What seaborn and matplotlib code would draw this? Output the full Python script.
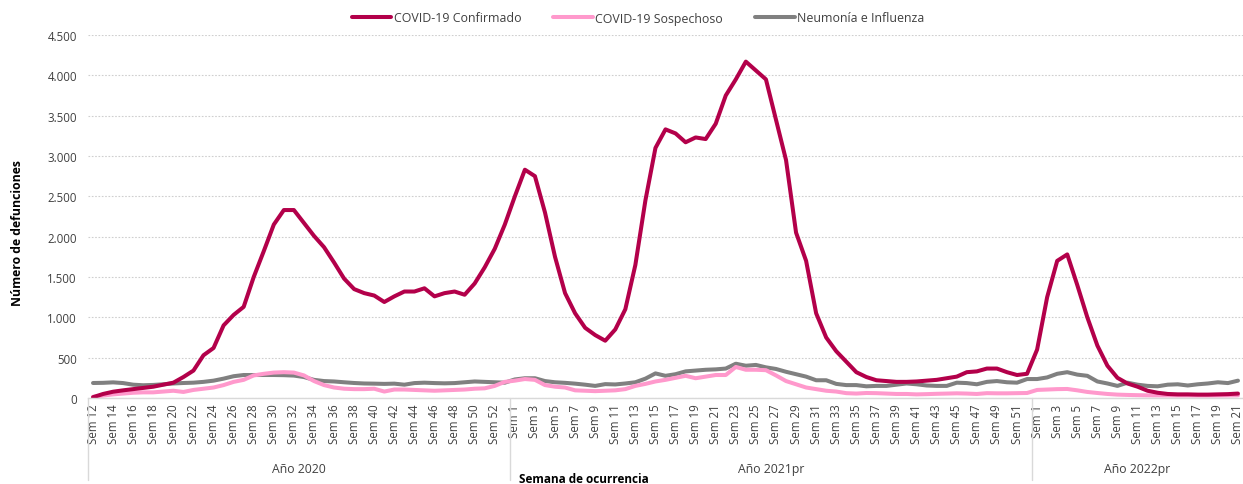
import numpy as np
import pandas as pd
import matplotlib
matplotlib.use('Agg')
import matplotlib.pyplot as plt
import matplotlib.ticker as mticker
import matplotlib.transforms as mtransforms
import seaborn as sns

# Weeks per year (category axis)
weeks_2020 = list(range(12, 54))
weeks_2021 = list(range(1, 53))
weeks_2022 = list(range(1, 22))
year_labels = ['Año 2020', 'Año 2021pr', 'Año 2022pr']

# Deaths per week
confirmado_2020 = [10, 50, 78, 95, 110, 125, 140, 165, 190, 260, 340, 530, 620, 900,
                   1030, 1130, 1500, 1820, 2150, 2330, 2330, 2170, 2010, 1870, 1680,
                   1480, 1350, 1300, 1270, 1190, 1260, 1320, 1320, 1360, 1260, 1300,
                   1320, 1280, 1420, 1620, 1850, 2150]
confirmado_2021 = [2500, 2830, 2750, 2300, 1750, 1300, 1050, 870, 780, 710, 850, 1100,
                   1650, 2450, 3100, 3330, 3280, 3170, 3230, 3210, 3400, 3750, 3950,
                   4170, 4060, 3950, 3450, 2950, 2050, 1700, 1050, 750, 580, 450, 320,
                   260, 220, 210, 200, 200, 205, 215, 225, 245, 265, 320, 330, 365,
                   365, 320, 285, 300]
confirmado_2022 = [600, 1250, 1700, 1780, 1400, 1000, 650, 400, 250, 180, 140, 90, 65,
                   50, 45, 45, 42, 42, 45, 48, 55]

sospechoso_2020 = [15, 30, 45, 55, 65, 70, 70, 80, 90, 75, 100, 115, 130, 160, 200, 225,
                   280, 300, 315, 320, 315, 280, 210, 160, 130, 115, 110, 110, 115, 80,
                   105, 105, 100, 95, 90, 95, 100, 105, 115, 120, 150, 200]
sospechoso_2021 = [215, 235, 225, 160, 140, 130, 95, 90, 85, 90, 95, 110, 150, 175, 205,
                   225, 250, 275, 245, 265, 285, 285, 385, 350, 350, 345, 280, 210, 170,
                   130, 110, 90, 80, 60, 55, 62, 60, 55, 50, 50, 45, 48, 52, 55, 58, 55,
                   50, 60, 58, 58, 60, 62]
sospechoso_2022 = [100, 105, 110, 112, 95, 75, 62, 50, 42, 38, 35, 33, 32, 32, 31, 31,
                   30, 30, 31, 32, 33]

neumonia_2020 = [186, 188, 194, 185, 165, 158, 162, 170, 180, 186, 190, 200, 215, 240,
                 270, 285, 285, 285, 285, 283, 278, 260, 225, 210, 205, 195, 186, 180,
                 178, 175, 178, 165, 185, 190, 185, 182, 185, 195, 205, 200, 195, 190]
neumonia_2021 = [230, 245, 245, 210, 195, 188, 178, 165, 150, 172, 168, 180, 195, 240,
                 305, 275, 295, 330, 340, 350, 355, 365, 425, 400, 410, 380, 360, 325,
                 295, 265, 220, 220, 175, 160, 160, 145, 150, 150, 165, 180, 170, 155,
                 150, 150, 190, 185, 170, 200, 210, 195, 190, 235]
neumonia_2022 = [235, 255, 300, 320, 290, 275, 205, 180, 150, 190, 165, 150, 145, 165,
                 170, 155, 170, 180, 195, 185, 215]

series_names = ['COVID-19 Confirmado', 'COVID-19 Sospechoso', 'Neumonía e Influenza']
colors = {'COVID-19 Confirmado': '#B3004A',
          'COVID-19 Sospechoso': '#FF99CC',
          'Neumonía e Influenza': '#808080'}

weeks = weeks_2020 + weeks_2021 + weeks_2022
week_labels = ['Sem %d' % w for w in weeks]
n = len(weeks)
idx = np.arange(n)

values = {
    'COVID-19 Confirmado': confirmado_2020 + confirmado_2021 + confirmado_2022,
    'COVID-19 Sospechoso': sospechoso_2020 + sospechoso_2021 + sospechoso_2022,
    'Neumonía e Influenza': neumonia_2020 + neumonia_2021 + neumonia_2022,
}
frames = []
for name in series_names:
    frames.append(pd.DataFrame({'pos': idx, 'value': values[name], 'serie': name}))
data = pd.concat(frames, ignore_index=True)

sns.set_style('white')
plt.rcParams['font.family'] = ['Open Sans', 'DejaVu Sans']

fig = plt.figure(figsize=(12.43, 4.85), dpi=100)
ax = fig.add_axes([88 / 1243, 86 / 485, 1155 / 1243, 363 / 485])

sns.lineplot(data=data, x='pos', y='value', hue='serie', hue_order=series_names[::-1],
             palette=colors, linewidth=2.9, ax=ax, legend=False,
             solid_joinstyle='round', solid_capstyle='round')

ax.set_xlim(-0.5, n - 0.5)
ax.set_ylim(0, 4500)
ax.yaxis.set_major_locator(mticker.MultipleLocator(500))
ax.yaxis.set_major_formatter(mticker.FuncFormatter(lambda v, p: f'{v:,.0f}'.replace(',', '.')))
ax.grid(axis='y', color='#CFCFCF', linestyle=(0, (1.5, 1.5)), linewidth=0.8)
ax.set_axisbelow(True)

ax.set_xticks(idx[::2])
ax.set_xticklabels(week_labels[::2], rotation=90, fontsize=8.3, color='#404040')
ax.tick_params(axis='x', length=0, pad=4)
ax.tick_params(axis='y', length=0, labelsize=8.3, labelcolor='#404040', pad=8)
ax.set_xlabel('')
ax.set_ylabel('')

for s in ['top', 'right', 'left']:
    ax.spines[s].set_visible(False)
ax.spines['bottom'].set_color('#D9D9D9')
ax.spines['bottom'].set_linewidth(1.0)

# year group separators and labels
trans = mtransforms.blended_transform_factory(ax.transData, ax.transAxes)
bounds = [-0.5, len(weeks_2020) - 0.5, len(weeks_2020) + len(weeks_2021) - 0.5, n - 0.5]
for b in bounds[:-1]:
    ax.plot([b, b], [0, -0.225], transform=trans, color='#D9D9D9', linewidth=1.0, clip_on=False)
for i, lab in enumerate(year_labels):
    ax.text((bounds[i] + bounds[i + 1]) / 2, -0.193, lab, transform=trans,
            ha='center', va='center', fontsize=8.8, color='#404040')

ax.text(42.4, -0.222, 'Semana de ocurrencia', transform=trans, ha='left', va='center',
        fontsize=8.5, fontweight='bold', color='black')
fig.text(18 / 1243, 1 - 233 / 485, 'Número de defunciones', rotation=90, ha='center',
         va='center', fontsize=8.8, fontweight='bold', color='black')

handles = [plt.Line2D([], [], color=colors[s], linewidth=2.9) for s in series_names]
fig.legend(handles, series_names, loc='center', bbox_to_anchor=(638 / 1243, 1 - 19 / 485),
           ncol=3, frameon=False, fontsize=8.9, handlelength=3.2, columnspacing=2.6,
           handletextpad=0.2, labelcolor='#404040')

fig.savefig('out.png', dpi=100)
